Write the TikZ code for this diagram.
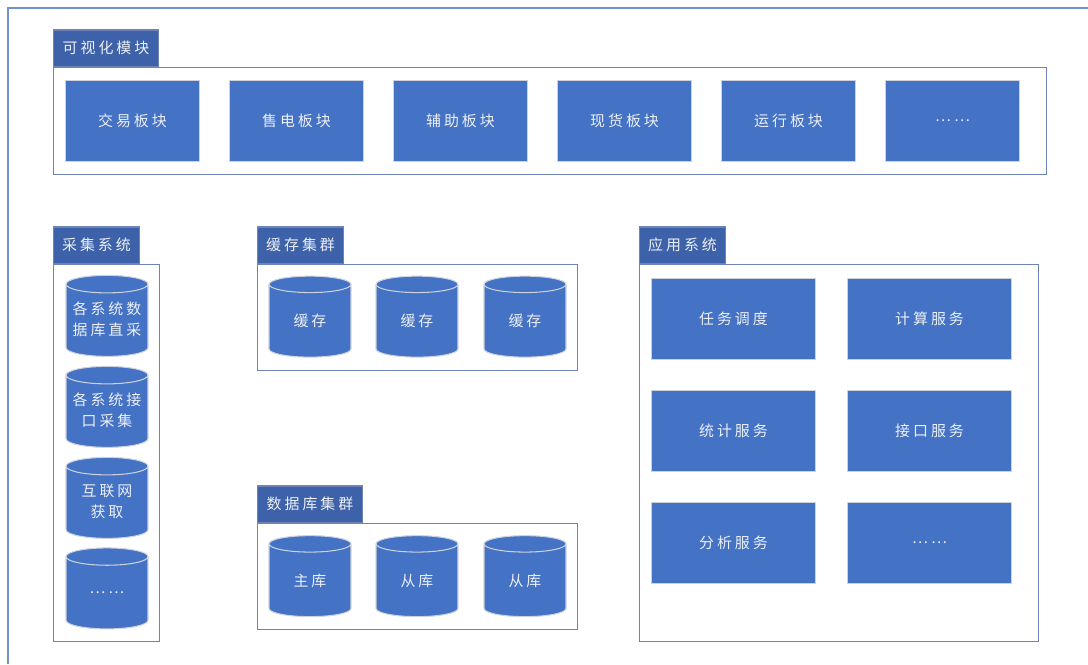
\documentclass[tikz,border=0pt]{standalone}
\usepackage{fontspec}
\newfontfamily\cjkfont[LetterSpace=20]{Noto Sans CJK SC}
\usetikzlibrary{shapes.geometric,positioning}
\definecolor{boxblue}{RGB}{68,114,196}
\definecolor{tabblue}{RGB}{61,98,170}
\definecolor{framegray}{RGB}{110,132,180}
\definecolor{outerblue}{RGB}{110,145,210}
\definecolor{edgegray}{RGB}{205,210,220}
\definecolor{txtwhite}{RGB}{236,239,246}
% two-line label that does not widen the cylinder
\newcommand{\cyltext}[1]{\makebox[0.7cm]{\begin{tabular}{@{}c@{}}#1\end{tabular}}}
\tikzset{
  grp/.style={draw=framegray, line width=0.8pt, fill=white, anchor=north west, inner sep=0pt},
  tab/.style={fill=tabblue, draw=framegray, line width=0.6pt, anchor=south west,
              minimum height=0.73cm, inner sep=0pt, text=txtwhite,
              font=\cjkfont\fontsize{8.5}{10}\selectfont},
  mod/.style={fill=boxblue, draw=edgegray, line width=0.6pt, anchor=north west,
              minimum width=2.68cm, minimum height=1.62cm, inner sep=0pt, text=txtwhite,
              font=\cjkfont\fontsize{8.5}{10}\selectfont},
  svc/.style={mod, minimum width=3.28cm},
  db/.style={cylinder, shape border rotate=90, aspect=0.5, fill=boxblue, draw=edgegray,
             line width=0.6pt, minimum width=1.64cm, minimum height=1.62cm, inner sep=0pt,
             align=center, text=txtwhite, font=\cjkfont\fontsize{8.5}{12}\selectfont},
}
\begin{document}
\begin{tikzpicture}[x=0.02cm, y=-0.02cm]
  \useasboundingbox (0,0) rectangle (1088,664);
  % outer frame
  \draw[outerblue, line width=1.1pt] (8,664) |- (1088,8);

  % visual module
  \node[grp, minimum width=19.86cm, minimum height=2.14cm] (visFrame) at (53,67) {};
  \node[tab, minimum width=2.1cm] (visTab) at (visFrame.north west) {可视化模块};
  \foreach \i/\x/\t in {1/65/交易板块, 2/229/售电板块, 3/393/辅助板块,
                        4/557/现货板块, 5/721/运行板块, 6/885/……}
    \node[mod] (vis\i) at (\x,80) {\t};

  % collection
  \node[grp, minimum width=2.12cm, minimum height=7.54cm] (colFrame) at (53,264) {};
  \node[tab, minimum width=1.72cm] (colTab) at (colFrame.north west) {采集系统};
  \node[db] (col1) at (107,320.5) {\cyltext{各系统数\\据库直采}};
  \node[db] (col2) at (107,411.5) {\cyltext{各系统接\\口采集}};
  \node[db] (col3) at (107,502.5) {\cyltext{互联网\\获取}};
  \node[db] (col4) at (107,593) {……};

  % cache cluster
  \node[grp, minimum width=6.4cm, minimum height=2.12cm] (cacheFrame) at (257,264) {};
  \node[tab, minimum width=1.72cm] (cacheTab) at (cacheFrame.north west) {缓存集群};
  \foreach \i/\x in {1/310, 2/417, 3/525}
    \node[db] (cache\i) at (\x,321) {缓存};

  % database cluster
  \node[grp, minimum width=6.4cm, minimum height=2.12cm] (dbFrame) at (257,523) {};
  \node[tab, minimum width=2.1cm] (dbTab) at (dbFrame.north west) {数据库集群};
  \foreach \i/\x/\t in {1/310/主库, 2/417/从库, 3/525/从库}
    \node[db] (store\i) at (\x,580.5) {\t};

  % application system
  \node[grp, minimum width=7.98cm, minimum height=7.54cm] (appFrame) at (639,264) {};
  \node[tab, minimum width=1.72cm] (appTab) at (appFrame.north west) {应用系统};
  \node[svc] (app1) at (651,278) {任务调度};
  \node[svc] (app2) at (847,278) {计算服务};
  \node[svc] (app3) at (651,390) {统计服务};
  \node[svc] (app4) at (847,390) {接口服务};
  \node[svc] (app5) at (651,502) {分析服务};
  \node[svc] (app6) at (847,502) {……};
\end{tikzpicture}
\end{document}
